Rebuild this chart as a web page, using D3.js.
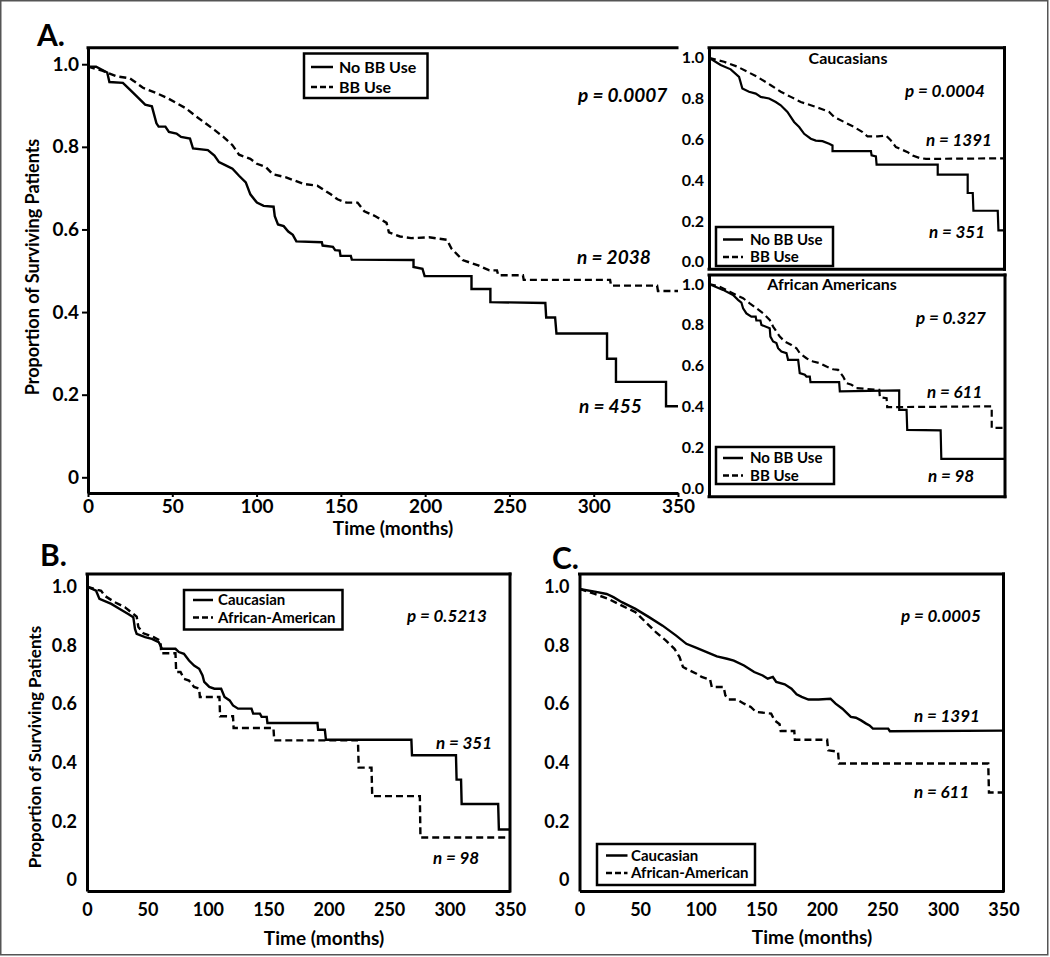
<!DOCTYPE html>
<html>
<head>
<meta charset="utf-8">
<script src="https://cdn.jsdelivr.net/npm/d3@7"></script>
<style>
body { margin: 0; background: #fff; }
svg { display: block; font-family: Lato, "Open Sans", sans-serif; font-weight: bold; }
</style>
</head>
<body>
<svg id="chart" width="1050" height="957"></svg>
<script>
// ---- Panel A: all patients, No BB Use vs BB Use (time in months, proportion surviving)
var aNoBBTime = [0, 4.8, 11.4, 12.7, 20.7, 24.7, 30, 33.9, 37.9, 40.6, 41.9, 45.9, 48, 52.5, 55.2, 60.5, 62.3, 71.1, 75, 77.7, 81.7, 85.7, 89.6, 93.6, 96.3, 100.2, 104.2, 110.1, 110.8, 112.7, 116.1, 118.8, 121.5, 123.6, 138.7, 139.2, 145.3, 146.6, 149.3, 149.8, 155.9, 156.5, 193.1, 193.1, 198.4, 199.7, 227.5, 227.5, 238.7, 238.7, 271.3, 271.8, 277.1, 277.9, 307.9, 307.9, 313.2, 313.2, 342.9, 342.9, 350];
var aNoBBSurv = [0.994, 0.994, 0.98, 0.957, 0.955, 0.939, 0.918, 0.902, 0.898, 0.857, 0.849, 0.849, 0.836, 0.832, 0.824, 0.82, 0.796, 0.792, 0.779, 0.763, 0.755, 0.747, 0.73, 0.714, 0.685, 0.665, 0.657, 0.655, 0.632, 0.612, 0.608, 0.595, 0.587, 0.571, 0.569, 0.561, 0.558, 0.55, 0.549, 0.536, 0.536, 0.527, 0.526, 0.509, 0.505, 0.487, 0.487, 0.456, 0.456, 0.424, 0.422, 0.387, 0.387, 0.348, 0.348, 0.287, 0.287, 0.231, 0.231, 0.172, 0.172];
var aBBTime = [0, 8.8, 16.7, 24.7, 27.3, 32.6, 40.6, 47.2, 52.5, 57.8, 63.1, 69.7, 75, 80.3, 85.7, 89.6, 96.3, 100.2, 105.5, 109.5, 117.5, 122.8, 128.1, 136, 144, 148, 153.3, 159.9, 163.9, 170.5, 177.1, 178.5, 185.1, 191.7, 202.3, 212.9, 215.6, 222.2, 231.5, 238.1, 242.6, 243.4, 258, 258.5, 309.7, 310.3, 337.6, 338.1, 350];
var aBBSurv = [0.994, 0.984, 0.971, 0.966, 0.959, 0.943, 0.93, 0.918, 0.906, 0.894, 0.877, 0.857, 0.841, 0.824, 0.804, 0.781, 0.771, 0.759, 0.751, 0.734, 0.726, 0.718, 0.71, 0.706, 0.685, 0.673, 0.665, 0.665, 0.644, 0.632, 0.616, 0.593, 0.583, 0.579, 0.581, 0.575, 0.554, 0.526, 0.513, 0.501, 0.501, 0.489, 0.489, 0.478, 0.478, 0.464, 0.464, 0.451, 0.451];

// ---- Inset: Caucasians
var cauNoBBTime = [0, 13.8, 25.7, 35.6, 39.5, 47.4, 55.4, 61.3, 71.2, 79.1, 85, 92.9, 100.8, 106.8, 112.7, 120.6, 126.5, 134.4, 142.3, 146.3, 146.3, 191.8, 192.6, 197.7, 198.5, 270.9, 270.9, 306.4, 306.4, 312.4, 313.2, 342, 342.8, 350];
var cauNoBBSurv = [1, 0.964, 0.943, 0.906, 0.849, 0.833, 0.824, 0.808, 0.8, 0.783, 0.767, 0.734, 0.685, 0.66, 0.627, 0.603, 0.594, 0.591, 0.578, 0.57, 0.542, 0.542, 0.521, 0.516, 0.476, 0.476, 0.427, 0.427, 0.337, 0.337, 0.25, 0.25, 0.154, 0.154];
var cauBBTime = [0, 17.8, 33.6, 45.5, 57.3, 73.2, 85, 96.9, 108.7, 120.6, 132.5, 142.3, 148.3, 160.1, 172, 181.9, 187.8, 199.7, 209.6, 215.5, 221.4, 229.3, 235.3, 241.2, 249.1, 257, 350];
var cauBBSurv = [1, 0.98, 0.956, 0.931, 0.906, 0.865, 0.833, 0.808, 0.783, 0.767, 0.75, 0.734, 0.709, 0.685, 0.66, 0.635, 0.614, 0.614, 0.619, 0.594, 0.562, 0.548, 0.537, 0.521, 0.509, 0.504, 0.507];

// ---- Inset: African Americans
var afNoBBTime = [0, 16.6, 28.4, 34.3, 38.3, 40.3, 44.2, 50.1, 55.2, 56, 60.8, 62, 71.8, 72.6, 75.8, 79.7, 81.7, 85.6, 91.6, 93.5, 105.4, 107.3, 113.3, 115.2, 119.2, 120, 153.9, 154.7, 224.9, 224.9, 233.6, 234.4, 273.9, 274.7, 350];
var afNoBBSurv = [1, 0.971, 0.946, 0.922, 0.909, 0.881, 0.856, 0.84, 0.84, 0.821, 0.821, 0.799, 0.783, 0.742, 0.718, 0.71, 0.685, 0.669, 0.661, 0.628, 0.628, 0.563, 0.555, 0.546, 0.546, 0.519, 0.519, 0.473, 0.478, 0.383, 0.383, 0.285, 0.282, 0.142, 0.142];
var afBBTime = [0, 12.6, 24.5, 34.3, 40.3, 48.1, 56, 63.9, 71.8, 75.8, 83.7, 89.6, 97.5, 103.4, 107.3, 115.2, 123.1, 131, 138.9, 146.8, 152.7, 158.6, 162.6, 168.5, 174.4, 201.3, 202.1, 210, 210.7, 334.3, 334.3, 350];
var afBBSurv = [1, 0.987, 0.962, 0.941, 0.93, 0.905, 0.881, 0.856, 0.824, 0.791, 0.742, 0.718, 0.701, 0.685, 0.661, 0.636, 0.62, 0.612, 0.595, 0.582, 0.579, 0.546, 0.514, 0.506, 0.489, 0.481, 0.444, 0.44, 0.396, 0.4, 0.294, 0.294];

// ---- Panel B: No BB Use, Caucasian vs African-American
var bCauTime = [0, 7.5, 10.3, 20.1, 27.1, 34.1, 38.3, 39.7, 41.1, 48.1, 53.7, 59.3, 62.1, 73.2, 76, 80.2, 84.4, 88.6, 92.8, 95.6, 97, 101.2, 105.4, 111, 113.8, 118, 120.8, 125, 136.1, 137.5, 143.1, 144.5, 148.7, 149.3, 190.7, 191.2, 196.8, 197.7, 268.4, 268.9, 305.3, 305.8, 309.5, 310, 340.2, 340.8, 350];
var bCauSurv = [1, 0.986, 0.958, 0.941, 0.924, 0.907, 0.896, 0.856, 0.839, 0.828, 0.822, 0.811, 0.788, 0.788, 0.777, 0.771, 0.748, 0.731, 0.72, 0.697, 0.675, 0.658, 0.652, 0.652, 0.624, 0.612, 0.595, 0.584, 0.584, 0.567, 0.567, 0.556, 0.556, 0.535, 0.535, 0.512, 0.512, 0.478, 0.478, 0.425, 0.425, 0.342, 0.342, 0.259, 0.259, 0.172, 0.172];
var bAfTime = [0, 8.9, 11.7, 14.5, 22.9, 31.3, 38.3, 41.1, 42.5, 46.7, 52.3, 55.1, 60.7, 61.5, 73.2, 73.8, 77.4, 80.2, 84.4, 88.6, 92.8, 93.4, 109.6, 110.1, 120.8, 121.3, 154.3, 154.9, 224.2, 224.8, 235.4, 236, 275.4, 275.9, 350];
var bAfSurv = [1, 0.989, 0.986, 0.969, 0.947, 0.93, 0.907, 0.898, 0.862, 0.841, 0.833, 0.828, 0.816, 0.773, 0.773, 0.709, 0.709, 0.686, 0.68, 0.658, 0.652, 0.624, 0.624, 0.558, 0.558, 0.518, 0.518, 0.476, 0.476, 0.383, 0.383, 0.286, 0.286, 0.145, 0.145];

// ---- Panel C: BB Use, Caucasian vs African-American
var cCauTime = [0, 12.6, 22.4, 28, 35, 46.2, 57.4, 68.6, 79.8, 88.2, 96.6, 105, 113.4, 121.8, 127.4, 135.8, 144.2, 151.2, 155.4, 159.6, 162.4, 169.4, 175, 179.2, 183.4, 189, 197.4, 207.2, 211.4, 217, 221.2, 224, 228.2, 232.4, 236.6, 239.4, 242.2, 254.8, 256.2, 350];
var cCauSurv = [0.992, 0.983, 0.975, 0.964, 0.947, 0.924, 0.896, 0.867, 0.833, 0.805, 0.791, 0.777, 0.762, 0.754, 0.748, 0.731, 0.709, 0.697, 0.686, 0.692, 0.675, 0.667, 0.652, 0.633, 0.624, 0.615, 0.615, 0.618, 0.601, 0.584, 0.567, 0.556, 0.553, 0.544, 0.533, 0.527, 0.516, 0.516, 0.507, 0.509];
var cAfTime = [0, 12.6, 23.8, 35, 46.2, 54.6, 63, 71.4, 78.4, 82.6, 85.4, 91, 96.6, 100.8, 107.8, 109.2, 119, 120.4, 123.2, 130.2, 135.8, 141.4, 145.6, 158.2, 161, 165.2, 166.1, 177.3, 177.8, 204.4, 205.3, 213.4, 214.2, 337.4, 338, 350];
var cAfSurv = [0.992, 0.975, 0.958, 0.935, 0.913, 0.879, 0.845, 0.816, 0.788, 0.76, 0.726, 0.714, 0.703, 0.692, 0.683, 0.658, 0.658, 0.629, 0.615, 0.615, 0.601, 0.59, 0.573, 0.567, 0.544, 0.531, 0.508, 0.508, 0.478, 0.478, 0.442, 0.437, 0.397, 0.397, 0.298, 0.298];

// ---- tick labels
var xTicks = [0, 50, 100, 150, 200, 250, 300, 350];
var yTicks = [0, 0.2, 0.4, 0.6, 0.8, 1.0];
var yTickLabels = ["0", "0.2", "0.4", "0.6", "0.8", "1.0"];
var insetTickLabels = ["0.0", "0.2", "0.4", "0.6", "0.8", "1.0"];

var svg = d3.select("#chart");

// outer frame of the figure
svg.append("rect")
    .attr("x", 0.75).attr("y", 0.75)
    .attr("width", 1047).attr("height", 954)
    .attr("fill", "none").attr("stroke", "#555").attr("stroke-width", 1.5);

function drawPanel(p) {
    var x = d3.scaleLinear().domain([0, 350]).range([p.left, p.right]);
    var y = d3.scaleLinear().domain(p.yDomain).range([p.bottom, p.top]);
    var g = svg.append("g");

    var line = d3.line()
        .x(function(d) { return x(d[0]); })
        .y(function(d) { return y(d[1]); });

    p.series.forEach(function(s) {
        g.append("path")
            .datum(d3.zip(s.time, s.surv))
            .attr("d", line)
            .attr("fill", "none")
            .attr("stroke", "#000")
            .attr("stroke-width", p.lineWidth)
            .attr("stroke-dasharray", s.dashed ? "7,4" : null);
    });

    // y axis
    var yAxis = d3.axisLeft(y)
        .tickValues(yTicks)
        .tickFormat(function(d, i) { return p.yLabels[i]; })
        .tickSize(p.yTickSize)
        .tickSizeOuter(0)
        .tickPadding(p.yPad);
    var ya = g.append("g")
        .attr("transform", "translate(" + p.left + ",0)")
        .call(yAxis);
    ya.selectAll("text").attr("font-size", p.tickFont + "px").attr("font-family", "Lato").attr("font-weight", "bold").attr("fill", "#000");
    ya.selectAll(".tick line").attr("stroke-width", 2);

    // x axis
    if (p.xAxis) {
        var xAxis = d3.axisBottom(x)
            .tickValues(xTicks)
            .tickSize(p.xTickSize)
            .tickSizeOuter(0)
            .tickPadding(p.xPad);
        var xa = g.append("g")
            .attr("transform", "translate(0," + p.bottom + ")")
            .call(xAxis);
        xa.selectAll("text").attr("font-size", p.tickFont + "px").attr("font-family", "Lato").attr("font-weight", "bold").attr("fill", "#000");
        xa.selectAll(".tick line").attr("stroke-width", 2);
    } else {
        g.append("line")
            .attr("x1", p.left).attr("x2", p.right)
            .attr("y1", p.bottom).attr("y2", p.bottom);
    }

    // remaining frame sides
    g.append("line").attr("x1", p.left).attr("x2", p.topRight || p.right).attr("y1", p.top).attr("y2", p.top);
    if (p.rightSide) {
        g.append("line").attr("x1", p.right).attr("x2", p.right).attr("y1", p.top).attr("y2", p.bottom);
    }
    g.selectAll(".domain").attr("stroke-width", p.frameWidth);
    g.selectAll(":scope > line").attr("stroke", "#000").attr("stroke-width", p.frameWidth).attr("stroke-linecap", "square");

    // legend
    var lg = p.legend;
    g.append("rect")
        .attr("x", lg.x).attr("y", lg.y).attr("width", lg.w).attr("height", lg.h)
        .attr("fill", "#fff").attr("stroke", "#000").attr("stroke-width", 2.5);
    lg.items.forEach(function(name, i) {
        var yy = lg.rowY[i];
        g.append("line")
            .attr("x1", lg.lx1).attr("x2", lg.lx2).attr("y1", yy).attr("y2", yy)
            .attr("stroke", "#000").attr("stroke-width", 2.5)
            .attr("stroke-dasharray", i === 1 ? "6,3" : null);
        g.append("text")
            .attr("x", lg.tx).attr("y", yy).attr("dy", "0.35em")
            .attr("font-size", lg.font + "px")
            .text(name);
    });

    // annotations: p-value and group sizes
    p.notes.forEach(function(n) {
        g.append("text")
            .attr("x", n[0]).attr("y", n[1]).attr("dy", "0.35em")
            .attr("font-size", p.noteFont + "px")
            .attr("font-style", "italic")
            .text(n[2]);
    });

    if (p.title) {
        g.append("text")
            .attr("x", p.title[0]).attr("y", p.title[1]).attr("dy", "0.35em")
            .attr("text-anchor", "middle")
            .attr("font-size", "16px")
            .text(p.title[2]);
    }
    if (p.xTitle) {
        g.append("text")
            .attr("x", p.xTitle[0]).attr("y", p.xTitle[1]).attr("dy", "0.35em")
            .attr("text-anchor", "middle").attr("font-size", p.xTitle[2] + "px")
            .text("Time (months)");
    }
    if (p.yTitle) {
        g.append("text")
            .attr("transform", "translate(" + p.yTitle[0] + "," + p.yTitle[1] + ") rotate(-90)")
            .attr("dy", "0.35em")
            .attr("text-anchor", "middle").attr("font-size", p.yTitle[2] + "px")
            .text("Proportion of Surviving Patients");
    }
    if (p.letter) {
        g.append("text")
            .attr("x", p.letter[0]).attr("y", p.letter[1]).attr("dy", "0.35em")
            .attr("font-size", "30px")
            .text(p.letter[2]);
    }
}

// Panel A
drawPanel({
    left: 88, right: 678, top: 47.7, bottom: 493, topRight: 677,
    yDomain: [-0.038, 1.04], yLabels: yTickLabels,
    yTickSize: 6, yPad: 3, xTickSize: 4, xPad: 3, xAxis: true, rightSide: false,
    tickFont: 19, frameWidth: 3, lineWidth: 2.4, noteFont: 19,
    series: [
        { time: aNoBBTime, surv: aNoBBSurv, dashed: false },
        { time: aBBTime, surv: aBBSurv, dashed: true }
    ],
    legend: { x: 304, y: 53.5, w: 123.5, h: 44.5, rowY: [67, 87], lx1: 311, lx2: 333, tx: 339, font: 16, items: ["No BB Use", "BB Use"] },
    notes: [[578, 95, "p = 0.0007"], [577, 257, "n = 2038"], [579, 406, "n = 455"]],
    xTitle: [393, 528, 19], yTitle: [33, 267, 18], letter: [37, 35, "A."]
});

// Inset: Caucasians
drawPanel({
    left: 709, right: 1004.5, top: 47.7, bottom: 269.3,
    yDomain: [-0.037, 1.049], yLabels: insetTickLabels,
    yTickSize: 0, yPad: 5, xAxis: false, rightSide: true,
    tickFont: 16, frameWidth: 3, lineWidth: 2.2, noteFont: 17,
    series: [
        { time: cauNoBBTime, surv: cauNoBBSurv, dashed: false },
        { time: cauBBTime, surv: cauBBSurv, dashed: true }
    ],
    legend: { x: 716, y: 227, w: 117, h: 39, rowY: [239.5, 257], lx1: 723, lx2: 743, tx: 750, font: 15, items: ["No BB Use", "BB Use"] },
    notes: [[905, 91, "p = 0.0004"], [926, 140, "n = 1391"], [929, 232.5, "n = 351"]],
    title: [848, 58, "Caucasians"]
});

// Inset: African Americans
drawPanel({
    left: 709, right: 1005, top: 275, bottom: 496.7,
    yDomain: [-0.043, 1.044], yLabels: insetTickLabels,
    yTickSize: 0, yPad: 5, xAxis: false, rightSide: true,
    tickFont: 16, frameWidth: 3, lineWidth: 2.2, noteFont: 17,
    series: [
        { time: afNoBBTime, surv: afNoBBSurv, dashed: false },
        { time: afBBTime, surv: afBBSurv, dashed: true }
    ],
    legend: { x: 716, y: 447, w: 118, h: 37, rowY: [458, 475.5], lx1: 723, lx2: 743, tx: 750, font: 15, items: ["No BB Use", "BB Use"] },
    notes: [[916, 318, "p = 0.327"], [927, 392, "n = 611"], [928, 476, "n = 98"]],
    title: [832, 284, "African Americans"]
});

// Panel B
drawPanel({
    left: 87, right: 510, top: 574, bottom: 891,
    yDomain: [-0.0375, 1.043], yLabels: yTickLabels,
    yTickSize: 0, yPad: 10, xTickSize: 0, xPad: 12, xAxis: true, rightSide: true,
    tickFont: 18, frameWidth: 3, lineWidth: 2.4, noteFont: 17,
    series: [
        { time: bCauTime, surv: bCauSurv, dashed: false },
        { time: bAfTime, surv: bAfSurv, dashed: true }
    ],
    legend: { x: 184, y: 590, w: 158.5, h: 39.5, rowY: [600, 617.5], lx1: 193, lx2: 213, tx: 218, font: 15, items: ["Caucasian", "African-American"] },
    notes: [[407, 616, "p = 0.5213"], [436, 743, "n = 351"], [433, 858, "n = 98"]],
    xTitle: [324, 938, 19], yTitle: [35, 747, 17], letter: [40, 555, "B."]
});

// Panel C
drawPanel({
    left: 579.5, right: 1003.5, top: 574, bottom: 891,
    yDomain: [-0.0375, 1.043], yLabels: yTickLabels,
    yTickSize: 0, yPad: 10, xTickSize: 0, xPad: 12, xAxis: true, rightSide: true,
    tickFont: 18, frameWidth: 3, lineWidth: 2.4, noteFont: 17,
    series: [
        { time: cCauTime, surv: cCauSurv, dashed: false },
        { time: cAfTime, surv: cAfSurv, dashed: true }
    ],
    legend: { x: 597, y: 844, w: 158, h: 41, rowY: [855.5, 873], lx1: 606, lx2: 627.5, tx: 631, font: 15, items: ["Caucasian", "African-American"] },
    notes: [[901, 616, "p = 0.0005"], [914, 716.5, "n = 1391"], [914, 792, "n = 611"]],
    xTitle: [812, 937, 19], letter: [552, 558, "C."]
});
</script>
</body>
</html>
